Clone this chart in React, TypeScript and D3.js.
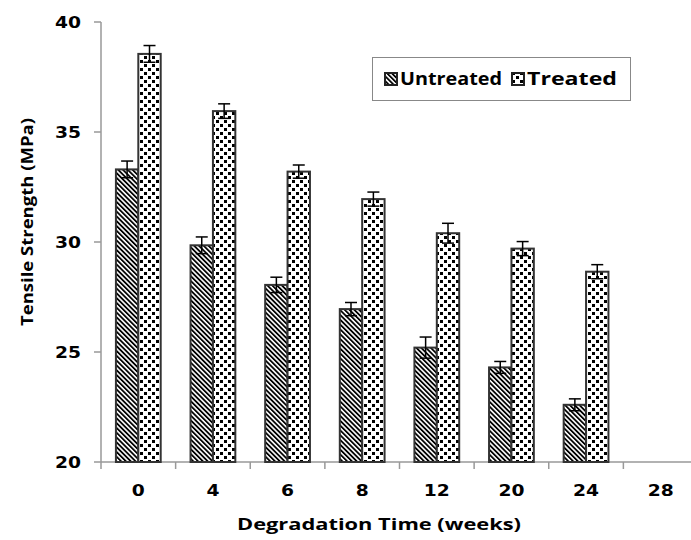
import React from "react";
import * as d3 from "d3";

const categories = ["0", "4", "6", "8", "12", "20", "24", "28"];
const untreated: (number | null)[] = [33.3, 29.85, 28.05, 26.95, 25.2, 24.3, 22.6, null];
const untreatedErr: (number | null)[] = [0.38, 0.38, 0.35, 0.3, 0.48, 0.27, 0.27, null];
const treated: (number | null)[] = [38.55, 35.95, 33.2, 31.95, 30.4, 29.7, 28.65, null];
const treatedErr: (number | null)[] = [0.38, 0.33, 0.3, 0.32, 0.45, 0.32, 0.32, null];
const yTicks = [20, 25, 30, 35, 40];
const seriesNames = ["Untreated", "Treated"];

const W = 691;
const H = 540;
const left = 101;
const right = 698;
const top = 22;
const bottom = 462;

export default function App() {
  const x = d3.scaleBand<string>().domain(categories).range([left, right]).paddingInner(0).paddingOuter(0);
  const y = d3.scaleLinear().domain([20, 40]).range([bottom, top]);
  const bw = x.bandwidth();
  const barW = bw * 0.3;
  const series = [
    { vals: untreated, errs: untreatedErr, fill: "url(#hatch)" },
    { vals: treated, errs: treatedErr, fill: "url(#dots)" },
  ];
  const tickFont = "'DejaVu Sans', Verdana, sans-serif";
  const titleFont = "'Open Sans', 'DejaVu Sans', sans-serif";
  return (
    <svg width={W} height={H} style={{ position: "absolute", left: 0, top: 0, background: "#fff" }}>
      <defs>
        <pattern id="hatch" patternUnits="userSpaceOnUse" width={3.4} height={3.4} patternTransform="rotate(-45)">
          <rect width={3.4} height={3.4} fill="#fff" />
          <rect x={0} y={0} width={1.8} height={3.4} fill="#000" />
        </pattern>
        <pattern id="dots" patternUnits="userSpaceOnUse" width={8} height={8}>
          <rect width={8} height={8} fill="#fff" />
          <rect x={0} y={0} width={3} height={3} fill="#000" />
          <rect x={4} y={4} width={3} height={3} fill="#000" />
        </pattern>
      </defs>
      {/* axes */}
      <line x1={left} x2={left} y1={top} y2={bottom} stroke="#999" strokeWidth={1.5} />
      <line x1={left} x2={right} y1={bottom} y2={bottom} stroke="#999" strokeWidth={1.5} />
      {yTicks.map((t) => (
        <g key={t}>
          <line x1={left - 7} x2={left} y1={y(t)} y2={y(t)} stroke="#999" strokeWidth={1.5} />
          <text
            x={81}
            y={y(t) + 5.5}
            textAnchor="end"
            fontFamily={tickFont}
            fontWeight="bold"
            fontSize={15}
            textLength={26}
            lengthAdjust="spacingAndGlyphs"
            fill="#000"
          >
            {t}
          </text>
        </g>
      ))}
      {categories.map((c) => (
        <line
          key={"xt" + c}
          x1={x(c) as number}
          x2={x(c) as number}
          y1={bottom}
          y2={bottom + 7}
          stroke="#999"
          strokeWidth={1.5}
        />
      ))}
      {categories.map((c) => (
        <text
          key={"xl" + c}
          x={(x(c) as number) + bw / 2}
          y={496}
          textAnchor="middle"
          fontFamily={tickFont}
          fontWeight="bold"
          fontSize={15}
          textLength={c.length * 13}
          lengthAdjust="spacingAndGlyphs"
          fill="#000"
        >
          {c}
        </text>
      ))}
      {/* bars */}
      {series.map((s, si) =>
        categories.map((c, i) => {
          const v = s.vals[i];
          if (v == null) return null;
          const x0 = (x(c) as number) + bw / 2 - barW + si * barW;
          return (
            <rect
              key={si + "-" + c}
              x={x0}
              y={y(v)}
              width={barW}
              height={bottom - y(v)}
              fill={s.fill}
              stroke="#333"
              strokeWidth={2}
            />
          );
        })
      )}
      {/* error bars */}
      {series.map((s, si) =>
        categories.map((c, i) => {
          const v = s.vals[i];
          const e = s.errs[i];
          if (v == null || e == null) return null;
          const cx = (x(c) as number) + bw / 2 - barW + si * barW + barW / 2;
          return (
            <g key={"e" + si + "-" + c} stroke="#000" strokeWidth={1.5}>
              <line x1={cx} x2={cx} y1={y(v + e)} y2={y(v - e)} />
              <line x1={cx - 6} x2={cx + 6} y1={y(v + e)} y2={y(v + e)} />
              <line x1={cx - 6} x2={cx + 6} y1={y(v - e)} y2={y(v - e)} />
            </g>
          );
        })
      )}
      {/* axis titles */}
      <text
        x={379}
        y={530}
        textAnchor="middle"
        fontFamily={titleFont}
        fontWeight="bold"
        fontSize={16}
        textLength={284}
        lengthAdjust="spacingAndGlyphs"
        fill="#000"
      >
        Degradation Time (weeks)
      </text>
      <text
        transform={`translate(33,222) rotate(-90)`}
        textAnchor="middle"
        fontFamily={titleFont}
        fontWeight="bold"
        fontSize={16}
        textLength={208}
        lengthAdjust="spacingAndGlyphs"
        fill="#000"
      >
        Tensile Strength (MPa)
      </text>
      {/* legend */}
      <rect x={372.5} y={57.5} width={258} height={43} fill="#fff" stroke="#888" strokeWidth={1} />
      {seriesNames.map((n, i) => {
        const sx = i === 0 ? 385 : 512;
        const tw = i === 0 ? 102 : 90;
        return (
          <g key={n}>
            <rect x={sx} y={73} width={12} height={12} fill={series[i].fill} stroke="#222" strokeWidth={2} />
            <text
              x={sx + 15}
              y={85}
              fontFamily={titleFont}
              fontWeight="bold"
              fontSize={17}
              textLength={tw}
              lengthAdjust="spacingAndGlyphs"
              fill="#000"
            >
              {n}
            </text>
          </g>
        );
      })}
    </svg>
  );
}
